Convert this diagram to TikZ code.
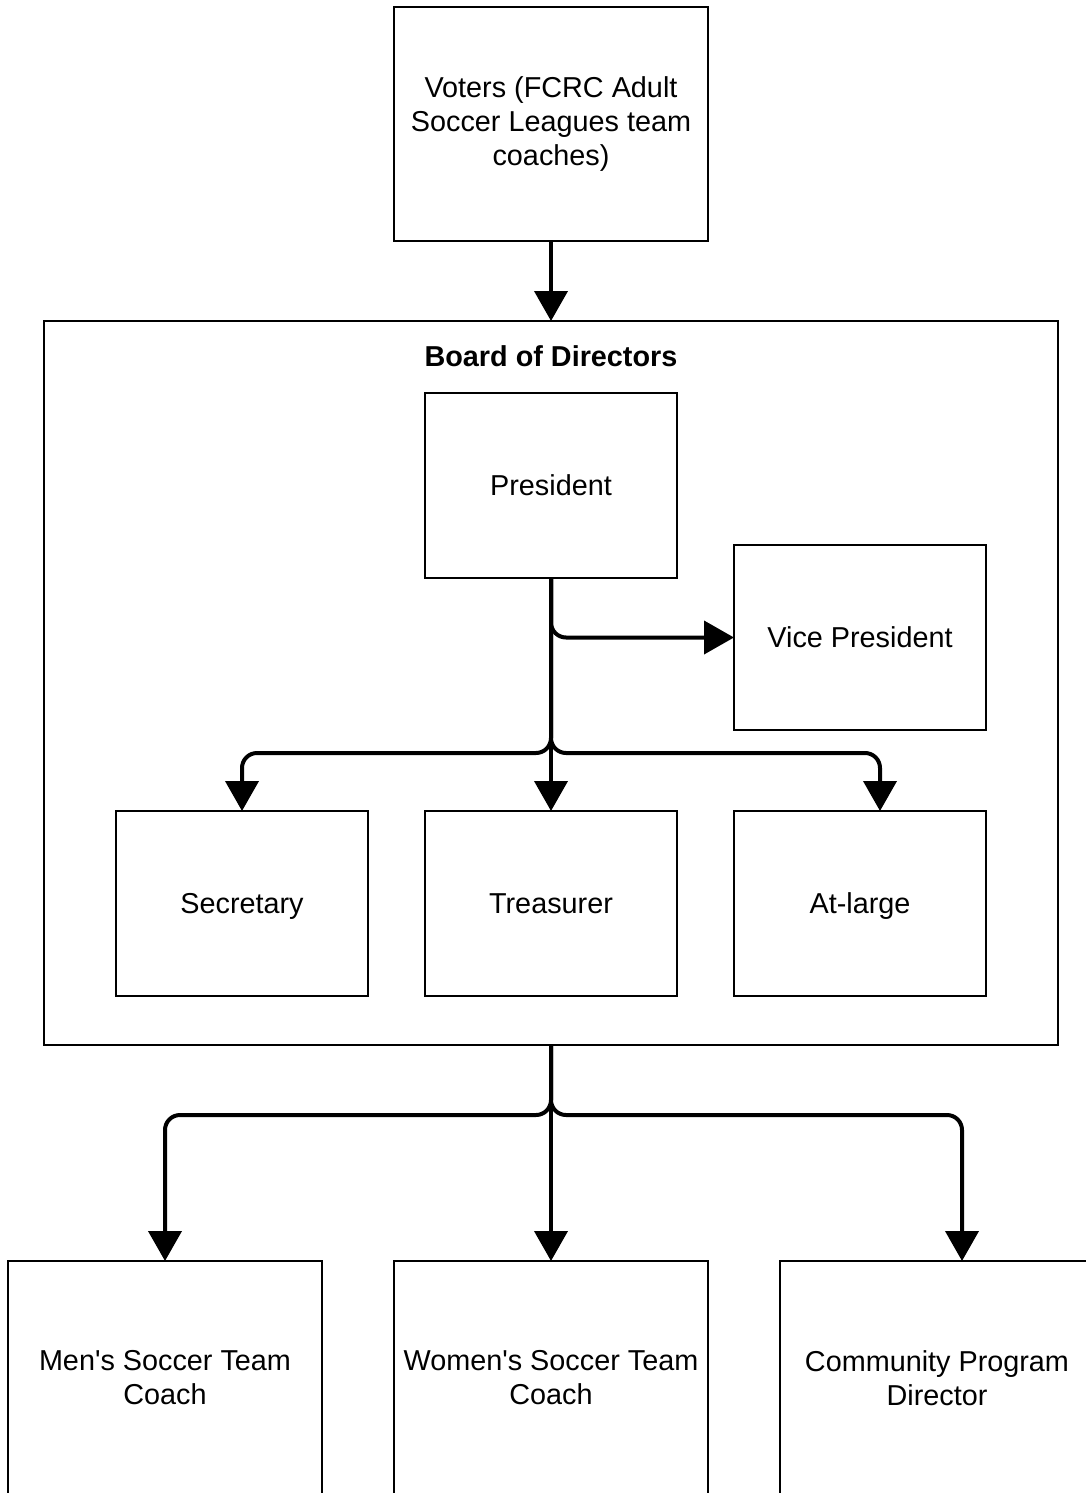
\documentclass[tikz,border=0pt]{standalone}
\usepackage{fontspec}
\setmainfont{Liberation Sans}
\usetikzlibrary{arrows.meta}

\begin{document}
\begin{tikzpicture}[yscale=-1,x=1pt,y=1pt
,basebox/.style={draw=black,line width=2pt,inner sep=0pt,outer sep=0pt,align=center,font=\fontsize{28.8}{34}\selectfont}
,orgbox/.style={basebox,text height=26pt,text depth=6pt,minimum width=252pt,minimum height=185pt}
,widebox/.style={basebox,minimum width=314pt,minimum height=234pt}
,orgarrow/.style={draw=black,line width=4pt,rounded corners=15pt,-{Triangle[width=33pt,length=30pt]}}
]
\useasboundingbox (0,0) rectangle (1086,1493);
\clip (0,0) rectangle (1086,1493);
\node[widebox] (voters) at (551,124) {Voters (FCRC Adult\\Soccer Leagues team\\coaches)};
\node[draw=black,line width=2pt,inner sep=0pt,outer sep=0pt,minimum width=1014pt,minimum height=724pt] (board) at (551,683) {};
\node[font=\fontsize{28.8}{34}\selectfont\bfseries] (boardtitle) at (551,356) {Board of Directors};
\node[orgbox] (president) at (551,485.5) {President};
\node[orgbox] (vicepres) at (860,637.5) {Vice President};
\node[orgbox] (secretary) at (242,903.5) {Secretary};
\node[orgbox] (treasurer) at (551,903.5) {Treasurer};
\node[orgbox] (atlarge) at (860,903.5) {At-large};
\node[widebox] (menscoach) at (165,1378) {Men\textquotesingle s Soccer Team\\Coach};
\node[widebox] (womenscoach) at (551,1378) {Women\textquotesingle s Soccer Team\\Coach};
\node[widebox] (commdir) at (937,1378) {Community Program\\Director};
\coordinate (presjoin) at (551,753);
\coordinate (boardjoin) at (551,1115);
\draw[orgarrow] (voters.south) -- (board.north);
\draw[orgarrow] (president.south) |- (vicepres.west);
\draw[orgarrow] (president.south) -- (presjoin) -| (secretary.north);
\draw[orgarrow] (president.south) -- (treasurer.north);
\draw[orgarrow] (president.south) -- (presjoin) -| ([xshift=20pt]atlarge.north);
\draw[orgarrow] (board.south) -- (boardjoin) -| (menscoach.north);
\draw[orgarrow] (board.south) -- (womenscoach.north);
\draw[orgarrow] (board.south) -- (boardjoin) -| ([xshift=25pt]commdir.north);
\end{tikzpicture}
\end{document}
